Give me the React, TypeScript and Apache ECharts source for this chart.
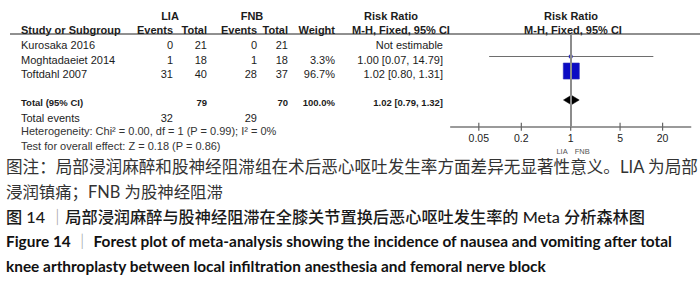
import React, { useEffect, useRef } from "react";
import * as echarts from "echarts";

// ---------- data ----------
const STUDIES = ["Kurosaka 2016", "Moghtadaeiet 2014", "Toftdahl 2007"];
const LIA_EVENTS = [0, 1, 31];
const LIA_TOTAL = [21, 18, 40];
const FNB_EVENTS = [0, 1, 28];
const FNB_TOTAL = [21, 18, 37];
const WEIGHTS: (number | null)[] = [null, 3.3, 96.7];
const RR: (number | null)[] = [null, 1.0, 1.02];
const CI_LOW: (number | null)[] = [null, 0.07, 0.8];
const CI_HIGH: (number | null)[] = [null, 14.79, 1.31];
const POOLED = [1.02, 0.79, 1.32]; // estimate, low, high
const TOTAL_N = [79, 70];
const TOTAL_EVENTS = [32, 29];
const TOTAL_WEIGHT = 100.0;
const TICK_VALUES = [0.05, 0.2, 1, 5, 20];
const AXIS_RANGE = [0.02, 50];
const GROUPS = ["LIA", "FNB"];
const HETEROGENEITY = "Heterogeneity: Chi\u00b2 = 0.00, df = 1 (P = 0.99); I\u00b2 = 0%";
const OVERALL = "Test for overall effect: Z = 0.18 (P = 0.86)";
const CAPTION_CN = [
  "图注：局部浸润麻醉和股神经阻滞组在术后恶心呕吐发生率方面差异无显著性意义。LIA 为局部",
  "浸润镇痛；FNB 为股神经阻滞",
];
const TITLE_CN = ["图 14 ", "｜", "局部浸润麻醉与股神经阻滞在全膝关节置换后恶心呕吐发生率的 Meta 分析森林图"];
const TITLE_EN = [
  ["Figure 14 ", "｜", " Forest plot of meta-analysis showing the incidence of nausea and vomiting after total"],
  ["knee arthroplasty between local infiltration anesthesia and femoral nerve block"],
];

// ---------- layout ----------
const Y_MIN = -0.76;
const Y_MAX = 5.633;
const MARK_OFFSET = 3;
const MAX_BOX = 16.3;
const COL = {
  study: 21,
  liaEvents: 173,
  liaTotal: 207,
  fnbEvents: 257,
  fnbTotal: 288,
  weight: 335,
  rr: 443,
};
const AR = "'Liberation Sans', Arial, sans-serif";
const FONT = `11px ${AR}`;
const BOLD = `bold 11px ${AR}`;
const TXT = "#1c1c1c";
const CJK = `'Lato', 'Noto Sans CJK SC', sans-serif`;

function cell(text: string, x: number, y: number, align = "right", font = FONT, fill = TXT) {
  return {
    type: "text",
    silent: true,
    style: {
      text,
      x,
      y,
      align,
      textAlign: align,
      verticalAlign: "middle",
      textVerticalAlign: "middle",
      font,
      fill,
    },
  };
}

function gtext(text: string, x: number, y: number, align: string, font: string, fill = TXT) {
  return {
    type: "text",
    silent: true,
    x,
    y,
    style: { text, align, textAlign: align, verticalAlign: "middle", textVerticalAlign: "middle", font, fill },
  };
}

function richLine(parts: string[], x: number, y: number, size: number, weight: string | number, fill: string) {
  const text = parts.map((p, i) => (i === 1 ? `{bar|${p}}` : `{t|${p}}`)).join("");
  return {
    type: "text",
    silent: true,
    x,
    y,
    style: {
      text,
      align: "left",
      textAlign: "left",
      verticalAlign: "middle",
      textVerticalAlign: "middle",
      rich: {
        t: { fontFamily: CJK, fontSize: size, fontWeight: weight, fill, color: fill },
        bar: { fontFamily: CJK, fontSize: size, fontWeight: "normal", fill: "#9a9a9a", color: "#9a9a9a" },
      },
    },
  };
}

const fmt = (v: number) => v.toFixed(2);

function buildOption(): any {
  return {
    animation: false,
    backgroundColor: "#ffffff",
    grid: { left: 450.7, right: 9.3, top: 34, bottom: 154.3, containLabel: false },
    xAxis: {
      type: "log",
      logBase: 10,
      min: AXIS_RANGE[0],
      max: AXIS_RANGE[1],
      axisLine: { show: true, onZero: false, lineStyle: { color: "#7a7a7a", width: 1.5 } },
      axisTick: { show: false },
      axisLabel: { show: false },
      splitLine: { show: false },
    },
    yAxis: { type: "value", inverse: true, min: Y_MIN, max: Y_MAX, show: false },
    graphic: [
      // header
      gtext(GROUPS[0], 170, 16, "center", BOLD),
      gtext(GROUPS[1], 252, 16, "center", BOLD),
      gtext("Risk Ratio", 391, 16, "center", BOLD),
      gtext("Risk Ratio", 571, 16, "center", BOLD),
      gtext("Study or Subgroup", COL.study, 29.5, "left", BOLD),
      gtext("Events", COL.liaEvents, 29.5, "right", BOLD),
      gtext("Total", COL.liaTotal, 29.5, "right", BOLD),
      gtext("Events", COL.fnbEvents, 29.5, "right", BOLD),
      gtext("Total", COL.fnbTotal, 29.5, "right", BOLD),
      gtext("Weight", COL.weight, 29.5, "right", BOLD),
      gtext("M-H, Fixed, 95% CI", 401, 29.5, "center", BOLD),
      gtext("M-H, Fixed, 95% CI", 573, 29.5, "center", BOLD),
      {
        type: "line",
        silent: true,
        shape: { x1: 10, y1: 34, x2: 700, y2: 34 },
        style: { stroke: "#222", lineWidth: 1.2 },
      },
      // captions
      gtext(CAPTION_CN[0], 6, 167, "left", `16.6px ${CJK}`, "#333"),
      gtext(CAPTION_CN[1], 6, 191, "left", `16.4px ${CJK}`, "#333"),
      richLine(TITLE_CN, 6, 216, 16.2, 500, "#1a1a1a"),
      richLine(TITLE_EN[0], 6, 241, 15.4, "bold", "#111"),
      richLine(TITLE_EN[1], 6, 266, 15.4, "bold", "#111"),
    ],
    series: [
      {
        // line of no effect
        type: "line",
        data: [],
        z: 1,
        markLine: {
          silent: true,
          symbol: "none",
          label: { show: false },
          lineStyle: { color: "#8c8c8c", width: 2, type: "solid" },
          data: [{ xAxis: 1 }],
        },
      },
      {
        type: "custom",
        name: "studies",
        z: 3,
        clip: false,
        data: STUDIES.map((_, i) => [RR[i] ?? 1, i]),
        encode: { x: 0, y: 1 },
        renderItem: (params: any, api: any) => {
          const i = params.dataIndex;
          const y = api.coord([1, i])[1];
          const ym = y - MARK_OFFSET;
          const kids: any[] = [
            cell(STUDIES[i], COL.study, y, "left"),
            cell(String(LIA_EVENTS[i]), COL.liaEvents, y),
            cell(String(LIA_TOTAL[i]), COL.liaTotal, y),
            cell(String(FNB_EVENTS[i]), COL.fnbEvents, y),
            cell(String(FNB_TOTAL[i]), COL.fnbTotal, y),
          ];
          const w = WEIGHTS[i];
          if (w != null) kids.push(cell(w.toFixed(1) + "%", COL.weight, y));
          const rr = RR[i];
          const lo = CI_LOW[i];
          const hi = CI_HIGH[i];
          if (rr == null || lo == null || hi == null || w == null) {
            kids.push(cell("Not estimable", COL.rr, y));
          } else {
            kids.push(cell(`${fmt(rr)} [${fmt(lo)}, ${fmt(hi)}]`, COL.rr, y));
            const xl = api.coord([lo, i])[0];
            const xh = api.coord([hi, i])[0];
            const xc = api.coord([rr, i])[0];
            const side = Math.max(2.2, MAX_BOX * Math.sqrt(w / 100));
            kids.push({
              type: "line",
              shape: { x1: xl, y1: ym, x2: xh, y2: ym },
              style: { stroke: "#6e6e6e", lineWidth: 1.1 },
            });
            kids.push({
              type: "rect",
              shape: { x: xc - side / 2, y: ym - side / 2, width: side, height: side },
              style: { fill: "#0b0bc4", stroke: "#3030b8", lineWidth: 0.6 },
            });
          }
          return { type: "group", children: kids };
        },
      },
      {
        type: "custom",
        name: "pooled",
        z: 3,
        clip: false,
        data: [[POOLED[0], 4]],
        encode: { x: 0, y: 1 },
        renderItem: (params: any, api: any) => {
          const row = api.value(1);
          const y = api.coord([1, row])[1] - 1;
          const ym = y - 2;
          const xc = api.coord([POOLED[0], row])[0];
          const xl = api.coord([POOLED[1], row])[0];
          const xh = api.coord([POOLED[2], row])[0];
          const SB = `bold 9.5px ${AR}`;
          const yEv = api.coord([1, row + 1])[1];
          const yHet = api.coord([1, row + 2])[1] - 1;
          const yTest = api.coord([1, row + 3])[1] - 1;
          return {
            type: "group",
            children: [
              {
                type: "polygon",
                shape: { points: [[xl, ym], [xc, ym - 4.8], [xh, ym], [xc, ym + 4.8]] },
                style: { fill: "#000", stroke: "#000", lineWidth: 0.5 },
              },
              cell("Total (95% CI)", COL.study, y, "left", SB),
              cell(String(TOTAL_N[0]), COL.liaTotal, y, "right", SB),
              cell(String(TOTAL_N[1]), COL.fnbTotal, y, "right", SB),
              cell(TOTAL_WEIGHT.toFixed(1) + "%", COL.weight, y, "right", SB),
              cell(`${fmt(POOLED[0])} [${fmt(POOLED[1])}, ${fmt(POOLED[2])}]`, COL.rr, y, "right", SB),
              cell("Total events", COL.study, yEv, "left"),
              cell(String(TOTAL_EVENTS[0]), COL.liaEvents, yEv),
              cell(String(TOTAL_EVENTS[1]), COL.fnbEvents, yEv),
              cell(HETEROGENEITY, COL.study, yHet, "left", FONT, "#333"),
              cell(OVERALL, COL.study, yTest, "left", FONT, "#333"),
            ],
          };
        },
      },
      {
        type: "custom",
        name: "ticks",
        z: 3,
        clip: false,
        data: TICK_VALUES.map((v) => [v, Y_MAX]),
        encode: { x: 0, y: 1 },
        renderItem: (params: any, api: any) => {
          const v = api.value(0);
          const [x, y] = api.coord([v, api.value(1)]);
          return {
            type: "group",
            children: [
              {
                type: "line",
                shape: { x1: x, y1: y - 4, x2: x, y2: y + 4 },
                style: { stroke: "#666", lineWidth: 1.2 },
              },
              cell(String(v), x, y + 11.5, "center", `10.5px ${AR}`, "#222"),
            ],
          };
        },
      },
      {
        type: "custom",
        name: "favours",
        z: 3,
        clip: false,
        data: [[1, Y_MAX]],
        encode: { x: 0, y: 1 },
        renderItem: (params: any, api: any) => {
          const [x, y] = api.coord([api.value(0), api.value(1)]);
          const F = `7.5px ${AR}`;
          return {
            type: "group",
            children: [
              cell(GROUPS[0], x - 3, y + 24.5, "right", F, "#555"),
              cell(GROUPS[1], x + 4, y + 24.5, "left", F, "#555"),
            ],
          };
        },
      },
    ],
  };
}

export default function App() {
  const ref = useRef<HTMLDivElement>(null);
  useEffect(() => {
    if (!ref.current) return;
    const chart = echarts.init(ref.current, undefined, { renderer: "svg" });
    chart.setOption(buildOption());
    return () => chart.dispose();
  }, []);
  return (
    <div
      ref={ref}
      style={{ position: "fixed", left: 0, top: 0, width: 700, height: 281, background: "#fff" }}
    />
  );
}
